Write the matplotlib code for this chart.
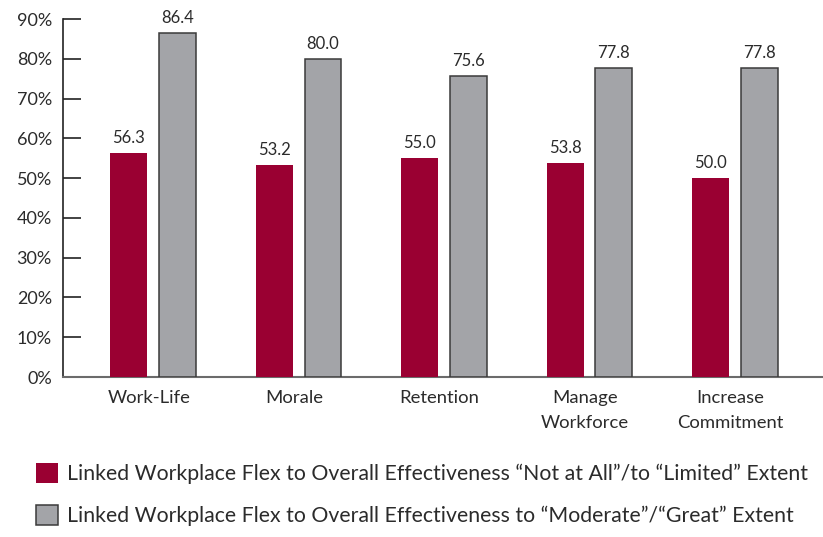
import numpy as np
import matplotlib
matplotlib.use("Agg")
import matplotlib.pyplot as plt

categories = ["Work-Life", "Morale", "Retention", "Manage\nWorkforce", "Increase\nCommitment"]
not_at_all = [56.3, 53.2, 55.0, 53.8, 50.0]
moderate = [86.4, 80.0, 75.6, 77.8, 77.8]
series_names = [
    "Linked Workplace Flex to Overall Effectiveness \u201cNot at All\u201d/to \u201cLimited\u201d Extent",
    "Linked Workplace Flex to Overall Effectiveness to \u201cModerate\u201d/\u201cGreat\u201d Extent",
]
y_ticks = np.arange(0, 100, 10)

RED = "#9a0032"
GRAY = "#a3a4a8"
TEXT = "#2b2b2b"

plt.rcParams['font.family'] = ['Lato', 'DejaVu Sans']

fig = plt.figure(figsize=(8.23, 5.37), dpi=100)
ax = fig.add_axes([63 / 823, 1 - 377 / 537, 1 - 63 / 823, 358 / 537])

x = np.arange(len(categories))
w = 0.254
off = 0.168
b1 = ax.bar(x - off, not_at_all, w, color=RED, edgecolor="none", zorder=3)
b2 = ax.bar(x + off, moderate, w, color=GRAY, edgecolor="#3a3a3a", linewidth=1.1, zorder=3)

for bars, vals in ((b1, not_at_all), (b2, moderate)):
    for r, v in zip(bars, vals):
        ax.annotate(f"{v:.1f}", (r.get_x() + r.get_width() / 2, v),
                    xytext=(0, 5), textcoords="offset points",
                    ha="center", va="bottom", fontsize=12, color=TEXT)

ax.set_ylim(0, 90)
ax.set_xlim(-0.619, 4.605)
ax.set_yticks(y_ticks)
ax.set_yticklabels([f"{t}%" for t in y_ticks])
ax.set_xticks(x - 0.03)
ax.set_xticklabels(categories, linespacing=1.65)

ax.tick_params(axis="y", direction="in", length=13, width=1.2, color="#222222",
               labelsize=13, labelcolor=TEXT, pad=8)
ax.tick_params(axis="x", length=0, labelsize=13.3, labelcolor=TEXT, pad=9.5)
for s in ("top", "right"):
    ax.spines[s].set_visible(False)
ax.spines["left"].set_color("#222222")
ax.spines["left"].set_linewidth(1.2)
ax.spines["bottom"].set_color("#6b6b6b")
ax.spines["bottom"].set_linewidth(1.5)

fig.legend([b1, b2], series_names, loc="upper left",
           bbox_to_anchor=(36 / 823, 1 - 463 / 537), frameon=False,
           fontsize=15.3, handlelength=1.05, handleheight=1.05,
           handletextpad=0.4, labelspacing=1.0, borderpad=0, borderaxespad=0,
           labelcolor=TEXT)

fig.savefig("out.png", dpi=100)
